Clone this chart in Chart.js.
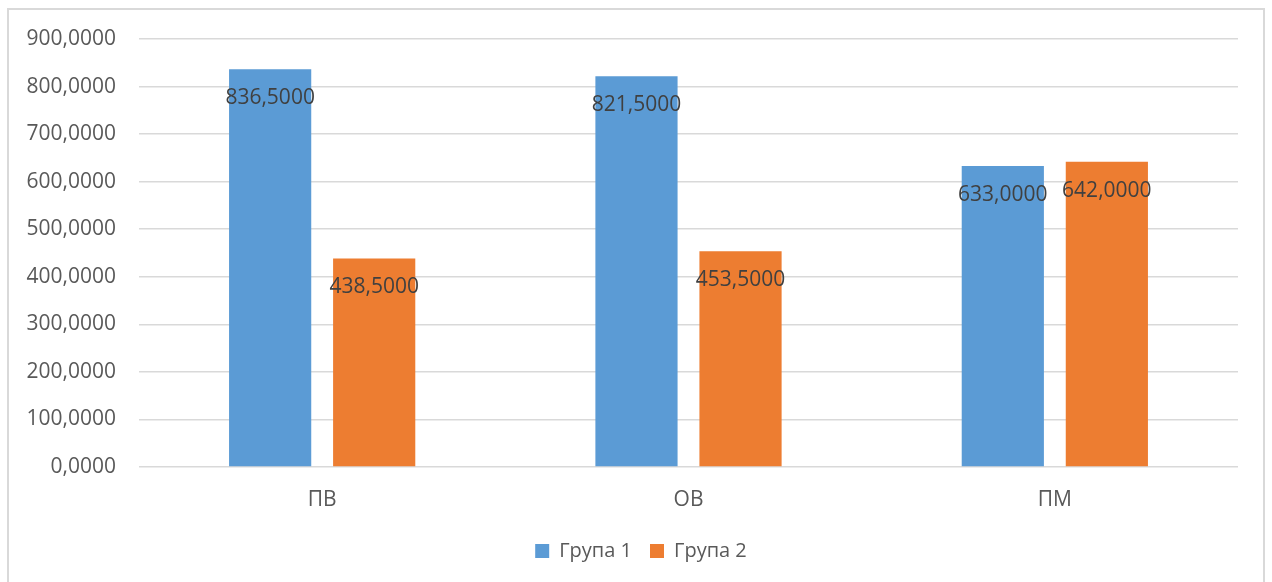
<!DOCTYPE html>
<html>
<head>
<meta charset="utf-8">
<script src="https://cdn.jsdelivr.net/npm/chart.js@4"></script>
<style>
  html, body { margin: 0; padding: 0; background: #fff; overflow: hidden; }
  #box {
    position: absolute; left: 7px; top: 8px;
    width: 1254px; height: 600px;
    border: 2px solid #d9d9d9; border-bottom: none;
  }
  #chart { display: block; }
</style>
</head>
<body>
<div id="box"><canvas id="chart" width="1254" height="572"></canvas></div>
<script>
// категорії та значення груп
var categories = ["ПВ", "ОВ", "ПМ"];
var group1 = [836.5, 821.5, 633.0];
var group2 = [438.5, 453.5, 642.0];
var seriesNames = ["Група 1", "Група 2"];
var yTicks = { min: 0, max: 900, step: 100 };

function fmt(v) {
  return Number(v).toFixed(4).replace(".", ",");
}

// підписи значень всередині стовпчиків, біля верху
var valueLabels = {
  id: "valueLabels",
  afterDatasetsDraw: function(chart) {
    var ctx = chart.ctx;
    ctx.save();
    ctx.font = "21px 'Open Sans'";
    ctx.fillStyle = "#404040";
    ctx.textAlign = "center";
    ctx.textBaseline = "middle";
    chart.data.datasets.forEach(function(ds, i) {
      chart.getDatasetMeta(i).data.forEach(function(bar, j) {
        ctx.fillText(fmt(ds.data[j]), bar.x, bar.y + 29);
      });
    });
    ctx.restore();
  }
};

// легенда по центру всього полотна, а не з урахуванням правого відступу
var legendShift = {
  id: "legendShift",
  afterLayout: function(chart) {
    var lg = chart.legend;
    var dx = chart.width / 2 - (lg.left + lg.right) / 2 + 5;
    lg.left += dx;
    lg.right += dx;
  }
};

var ctx = document.getElementById("chart").getContext("2d");
new Chart(ctx, {
  type: "bar",
  data: {
    labels: categories,
    datasets: [
      { label: seriesNames[0], data: group1, backgroundColor: "#5b9bd5" },
      { label: seriesNames[1], data: group2, backgroundColor: "#ed7d31" }
    ]
  },
  options: {
    responsive: false,
    animation: false,
    categoryPercentage: 0.568,
    barPercentage: 0.79,
    layout: { padding: { top: 29, right: 25, bottom: 11, left: 0 } },
    scales: {
      x: {
        grid: { display: false },
        border: { display: false },
        ticks: { color: "#595959", font: { family: "Open Sans", size: 21 }, padding: 12 },
        afterFit: function(scale) { scale.height = 56; }
      },
      y: {
        min: yTicks.min,
        max: yTicks.max,
        grid: { color: "#d9d9d9", lineWidth: 1.5, drawTicks: false },
        border: { display: false },
        ticks: {
          stepSize: yTicks.step,
          color: "#595959",
          font: { family: "Open Sans", size: 21 },
          padding: 23,
          callback: function(v) { return fmt(v); }
        },
        afterFit: function(scale) {
          scale.width = 130;
          scale.paddingTop = 0;
          scale.paddingBottom = 0;
        }
      }
    },
    plugins: {
      legend: {
        position: "bottom",
        labels: {
          color: "#595959",
          font: { family: "Open Sans", size: 20 },
          boxWidth: 14,
          boxHeight: 14,
          padding: 18
        }
      },
      tooltip: { enabled: false }
    }
  },
  plugins: [valueLabels, legendShift]
});
</script>
</body>
</html>
